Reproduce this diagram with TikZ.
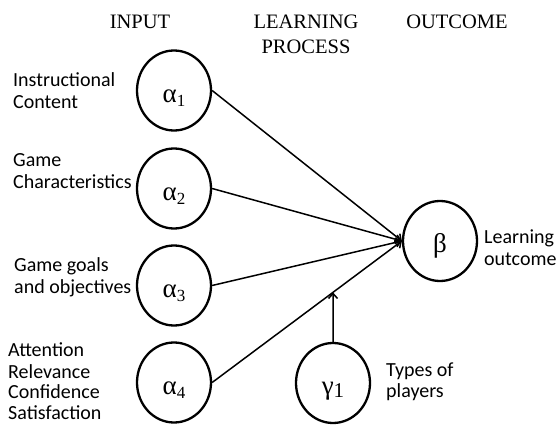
\documentclass[tikz,border=0pt]{standalone}
\usepackage{fontspec}
\setmainfont{Liberation Serif}
\newfontfamily\calib{Carlito}
\usetikzlibrary{arrows.meta,shapes.geometric}
\newcommand{\mysub}[2][-4pt]{\raisebox{#1}{\fontsize{17}{17}\selectfont #2}}
\begin{document}
\begin{tikzpicture}[x=1pt,y=-1pt,
  var/.style={draw, ellipse, line width=2.3pt, minimum width=74pt, minimum height=80pt,
    inner sep=0pt, font=\fontsize{27}{28}\selectfont, text height=24pt, text depth=0pt},
  lbl/.style={font=\calib\fontsize{20}{22.5}\selectfont, align=left, anchor=base west, inner sep=0pt},
  tight/.style={font=\calib\fontsize{20}{21}\selectfont},
  head/.style={font=\fontsize{20.5}{25}\selectfont, align=center, anchor=base, inner sep=0pt},
  conn/.style={line width=1.5pt, -{Straight Barb[length=5pt,width=9pt]}}]
\useasboundingbox[fill=white] (0,0) rectangle (558,425);

% headers
\node[head] (hin)  at (140,29) {INPUT};
\node[head] (hlp)  at (306,54) {LEARNING\\PROCESS};
\node[head] (hout) at (457,29) {OUTCOME};

% variables
\node[var] (a1) at (174,90.5)  {α\mysub{1}};
\node[var] (a2) at (174,188.5) {α\mysub{2}};
\node[var] (a3) at (174,285.5) {α\mysub{3}};
\node[var] (a4) at (174,382.5) {α\mysub{4}};
\node[var] (b)  at (440,241)   {β};
\node[var] (g1) at (333,383)   {γ\mysub[-3pt]{\fontsize{21}{21}\selectfont 1}};

% labels
\node[lbl] (l1) at (13,109) {Instructional\\Content};
\node[lbl] (l2) at (13,189) {Game\\Characteristics};
\node[lbl] (l3) at (14,294) {Game goals\\and objectives};
\node[lbl,tight] (l4) at (8,420) {Attention\\Relevance\\Confidence\\Satisfaction};
\node[lbl] (lb) at (484,266) {Learning\\outcome};
\node[lbl,tight] (lg) at (386,398) {Types of\\players};

% connectors
\draw[conn] (a1.east) -- (b.west);
\draw[conn] (a2.east) -- (b.west);
\draw[conn] (a3.east) -- (b.west);
\draw[conn] (a4.east) -- (b.west);
\coordinate (m) at (intersection of a4.east--b.west and g1.north--g1.south);
\draw[conn] (g1.north) -- (m);
\end{tikzpicture}
\end{document}
